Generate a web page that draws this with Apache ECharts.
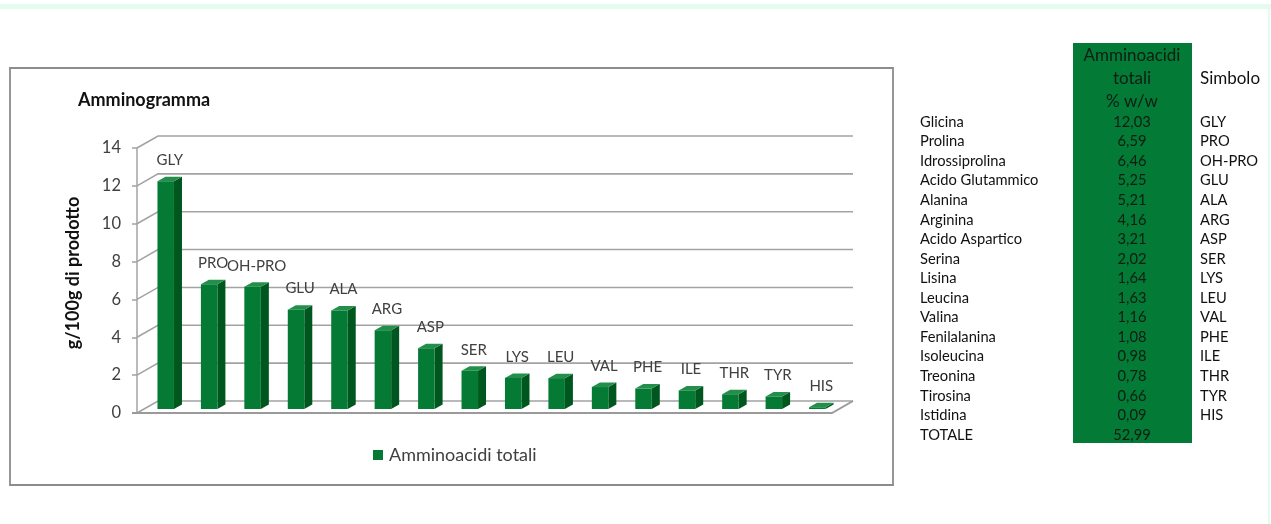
<!DOCTYPE html>
<html><head><meta charset="utf-8">
<script src="https://cdn.jsdelivr.net/npm/echarts@6/dist/echarts.min.js"></script>
<style>html,body{margin:0;padding:0;background:#fff}#c{width:1271px;height:524px}</style>
</head><body><div id="c"></div>
<script>
// ---- data ----
const names = ['Glicina','Prolina','Idrossiprolina','Acido Glutammico','Alanina','Arginina','Acido Aspartico','Serina','Lisina','Leucina','Valina','Fenilalanina','Isoleucina','Treonina','Tirosina','Istidina'];
const symbols = ['GLY','PRO','OH-PRO','GLU','ALA','ARG','ASP','SER','LYS','LEU','VAL','PHE','ILE','THR','TYR','HIS'];
const values = [12.03,6.59,6.46,5.25,5.21,4.16,3.21,2.02,1.64,1.63,1.16,1.08,0.98,0.78,0.66,0.09];
const totalLabel = 'TOTALE';
const totalValue = 52.99;
const yTicks = [0,2,4,6,8,10,12,14];
const seriesName = 'Amminoacidi totali';
const chartTitle = 'Amminogramma';
const yAxisTitle = 'g/100g di prodotto';
const tableHeader = ['Amminoacidi','totali','% w/w'];
const symbolHeader = 'Simbolo';

// ---- style constants ----
const FONT = 'Lato, "Open Sans", sans-serif';
const DX = 21, DY = -12;          // back-wall depth offset
const BSX = 7, BSY = -4;          // bar front face offset
const BDX = 8, BDY = -4.5;        // bar depth
const C_FRONT = '#047a34', C_SIDE = '#00561f', C_TOP = '#22904a';
const GRID_C = '#a3a3a3';

const fmt = v => v.toFixed(2).replace('.', ',');

function renderFrame(params, api) {
  const cs = params.coordSys;
  const x0 = cs.x, x1 = cs.x + cs.width;
  const ch = [];
  yTicks.forEach(v => {
    const y = api.coord([0, v])[1];
    ch.push({type:'polyline', silent:true, shape:{points:[[x0,y],[x0+DX,y+DY],[x1+DX,y+DY]]},
      style:{stroke:GRID_C, lineWidth:1.6, fill:'none'}});
  });
  const yb = api.coord([0, 0])[1];
  ch.push({type:'polyline', silent:true, shape:{points:[[x0-5,yb],[x1,yb],[x1+DX,yb+DY]]},
    style:{stroke:'#9a9a9a', lineWidth:2, fill:'none'}});
  return {type:'group', children:ch};
}

function renderBar(params, api) {
  const i = api.value(0), v = api.value(1);
  const base = api.coord([i, 0]), top = api.coord([i, v]);
  const band = api.size([1, 0])[0];
  const w = band * 0.38;
  const cx = base[0] + BSX;
  const xl = cx - w/2, xr = cx + w/2;
  const yb = base[1] + BSY, yt = top[1] + BSY;
  return {type:'group', children:[
    {type:'polygon', shape:{points:[[xr,yt],[xr+BDX,yt+BDY],[xr+BDX,yb+BDY],[xr,yb]]}, style:{fill:C_SIDE}},
    {type:'polygon', shape:{points:[[xl,yt],[xl+BDX,yt+BDY],[xr+BDX,yt+BDY],[xr,yt]]}, style:{fill:C_TOP}},
    {type:'rect', shape:{x:xl, y:yt, width:w, height:yb-yt}, style:{fill:C_FRONT}},
    {type:'text', style:{text:symbols[i], x:cx+BDX/2, y:yt-21, align:'center', verticalAlign:'middle',
      font:'15px ' + FONT, fill:'#404040'}}
  ]};
}

// ---- table graphics ----
const ROW0 = 122, ROWH = 19.56;
const TF = '14.7px ' + FONT;
const tbl = [];
tbl.push({type:'rect', z:1, shape:{x:1073, y:43, width:119, height:400}, style:{fill:'#037a35'}});
tableHeader.forEach((t, k) => tbl.push({type:'text', z:2, style:{text:t, x:1132, y:56 + k*23, textAlign:'center', textVerticalAlign:'middle', font:'17px ' + FONT, fill:'#0f1d13'}}));
tbl.push({type:'text', z:2, style:{text:symbolHeader, x:1200, y:79, textAlign:'left', textVerticalAlign:'middle', font:'17px ' + FONT, fill:'#111'}});
names.forEach((n, k) => {
  const y = ROW0 + k*ROWH;
  tbl.push({type:'text', z:2, style:{text:n, x:920, y, textAlign:'left', textVerticalAlign:'middle', font:TF, fill:'#111'}});
  tbl.push({type:'text', z:2, style:{text:fmt(values[k]), x:1132, y, textAlign:'center', textVerticalAlign:'middle', font:TF, fill:'#0f1d13'}});
  tbl.push({type:'text', z:2, style:{text:symbols[k], x:1200, y, textAlign:'left', textVerticalAlign:'middle', font:TF, fill:'#111'}});
});
{
  const y = ROW0 + names.length*ROWH;
  tbl.push({type:'text', z:2, style:{text:totalLabel, x:920, y, textAlign:'left', textVerticalAlign:'middle', font:TF, fill:'#111'}});
  tbl.push({type:'text', z:2, style:{text:fmt(totalValue), x:1132, y, textAlign:'center', textVerticalAlign:'middle', font:TF, fill:'#0f1d13'}});
}

const chart = echarts.init(document.getElementById('c'), null, {renderer:'canvas'});
chart.setOption({
  animation:false,
  backgroundColor:'#fff',
  textStyle:{fontFamily:FONT},
  grid:{left:137, top:148, width:695, height:265},
  xAxis:{type:'category', data:symbols, axisLine:{show:false}, axisTick:{show:false}, axisLabel:{show:false}, splitLine:{show:false}},
  yAxis:{type:'value', min:0, max:14, interval:2,
    axisLine:{show:true, lineStyle:{color:GRID_C, width:1.5}},
    axisTick:{show:true, length:5, lineStyle:{color:GRID_C, width:1.5}},
    axisLabel:{margin:16, fontSize:16.5, color:'#404040', fontFamily:FONT},
    splitLine:{show:false}},
  legend:{data:[{name:seriesName, icon:'rect', itemStyle:{color:C_FRONT}}], left:373, top:446, padding:0,
    itemWidth:10, itemHeight:10, itemGap:6, selectedMode:false,
    textStyle:{fontSize:18, color:'#404040', fontFamily:FONT, padding:[0,0,0,1]}},
  graphic:[
    {type:'rect', z:0, shape:{x:0, y:4, width:1271, height:5}, style:{fill:'#e4fcef'}},
    {type:'rect', z:0, shape:{x:1268, y:9, width:2, height:515}, style:{fill:'#e4fcef'}},
    {type:'rect', z:0, shape:{x:10, y:68, width:883, height:417}, style:{fill:'none', stroke:'#8c8c8c', lineWidth:1.8}},
    {type:'text', z:5, style:{text:chartTitle, x:78, y:100, textAlign:'left', textVerticalAlign:'middle', font:'bold 18px ' + FONT, fill:'#111'}},
    {type:'text', z:5, x:73, y:273, rotation:Math.PI/2, style:{text:yAxisTitle, x:0, y:0, textAlign:'center', textVerticalAlign:'middle', font:'bold 18px ' + FONT, fill:'#111'}},
    ...tbl
  ],
  series:[
    {type:'custom', name:'frame', silent:true, z:1, renderItem:renderFrame, data:[[0,0]], tooltip:{show:false}},
    {type:'custom', name:seriesName, z:3, itemStyle:{color:C_FRONT}, renderItem:renderBar, data:values.map((v,i)=>[i,v])}
  ]
});
</script>
</body></html>
